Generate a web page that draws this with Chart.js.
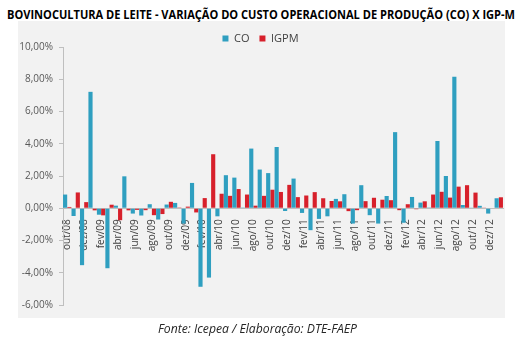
<!DOCTYPE html>
<html>
<head>
<meta charset="utf-8">
<script src="https://cdn.jsdelivr.net/npm/chart.js@4.4.1/dist/chart.umd.min.js"></script>
<style>
  body { margin: 0; background: #fff; }
  #wrap { position: relative; width: 526px; height: 345px; overflow: hidden; }
  #panel { position: absolute; left: 18px; top: 21px; width: 487px; height: 297px; background: #f2f2f2; }
  #title { position: absolute; left: 7px; top: 6px; font: bold 12px "Open Sans"; color: #000; white-space: nowrap; transform-origin: 0 0; }
  #fonte { position: absolute; left: 158px; top: 320px; font: italic 12px "Open Sans"; color: #262626; white-space: nowrap; transform-origin: 0 0; }
  canvas { position: absolute; left: 0; top: 0; }
</style>
</head>
<body>
<div id="wrap">
  <div id="panel"></div>
  <div id="title">BOVINOCULTURA DE LEITE - VARIAÇÃO DO CUSTO OPERACIONAL DE PRODUÇÃO (CO) X IGP-M</div>
  <canvas id="chart" width="526" height="345"></canvas>
  <div id="fonte">Fonte: Icepea / Elaboração: DTE-FAEP</div>
</div>
<script>
// meses (out/08 a jan/13)
const months = [
  'out/08', 'nov/08', 'dez/08',
  'jan/09', 'fev/09', 'mar/09', 'abr/09', 'mai/09', 'jun/09', 'jul/09', 'ago/09', 'set/09', 'out/09', 'nov/09', 'dez/09',
  'jan/10', 'fev/10', 'mar/10', 'abr/10', 'mai/10', 'jun/10', 'jul/10', 'ago/10', 'set/10', 'out/10', 'nov/10', 'dez/10',
  'jan/11', 'fev/11', 'mar/11', 'abr/11', 'mai/11', 'jun/11', 'jul/11', 'ago/11', 'set/11', 'out/11', 'nov/11', 'dez/11',
  'jan/12', 'fev/12', 'mar/12', 'abr/12', 'mai/12', 'jun/12', 'jul/12', 'ago/12', 'set/12', 'out/12', 'nov/12', 'dez/12',
  'jan/13'
];

// variação mensal (%)
const coValues = [
  0.85, -0.48, -3.53,
  7.22, -0.40, -3.72, 0.16, 1.98, -0.33, -0.45, 0.25, -0.70, 0.23, 0.33, -0.95,
  1.57, -4.87, -4.30, -0.50, 2.05, 1.90, 0.05, 3.70, 2.40, 2.18, 3.80, -0.17,
  1.84, -0.29, -1.36, -0.66, -0.50, 0.58, 0.87, -0.95, 1.43, -0.43, -0.95, 0.76,
  4.72, -0.90, 0.70, 0.35, 0.05, 4.17, 2.00, 8.15, 0.20, 0.02, 0.15, -0.33,
  0.62
];

const igpmValues = [
  0.08, 0.98, 0.38,
  -0.13, -0.44, 0.22, -0.74, -0.13, -0.10, -0.12, -0.43, -0.36, 0.40, 0.05, 0.10,
  -0.26, 0.63, 3.35, 0.90, 0.77, 1.19, 0.85, 0.16, 0.77, 1.15, 1.01, 1.45,
  0.69, 0.79, 1.00, 0.62, 0.45, 0.43, -0.18, -0.12, 0.44, 0.65, 0.53, 0.50,
  -0.12, 0.25, -0.06, 0.43, 0.85, 1.02, 0.66, 1.34, 1.43, 0.97, 0.02, -0.03,
  0.68
];

const yMin = -6;
const yMax = 10;
const yStep = 2;

// ajusta largura dos textos
function fitWidth(id, target) {
  const el = document.getElementById(id);
  const w = el.getBoundingClientRect().width;
  el.style.transform = 'scaleX(' + (target / w) + ')';
}
fitWidth('title', 508);
fitWidth('fonte', 199);

const font = 'Open Sans';

const legendHeight = {
  id: 'legendHeight',
  beforeInit(chart) {
    const fit = chart.legend.fit;
    chart.legend.fit = function () {
      fit.call(this);
      this.height = 24;
    };
  }
};

const ctx = document.getElementById('chart').getContext('2d');
new Chart(ctx, {
  type: 'bar',
  data: {
    labels: months,
    datasets: [
      { label: 'CO', data: coValues, backgroundColor: '#2f9fc0', borderWidth: 0, categoryPercentage: 1, barPercentage: 0.98 },
      { label: 'IGPM', data: igpmValues, backgroundColor: '#d7202b', borderWidth: 0, categoryPercentage: 1, barPercentage: 0.98 }
    ]
  },
  options: {
    responsive: false,
    animation: false,
    layout: { padding: { top: 23, left: 18, right: 23, bottom: 40 } },
    plugins: {
      tooltip: { enabled: false },
      legend: {
        position: 'top',
        labels: {
          boxWidth: 6,
          boxHeight: 6,
          padding: 10,
          color: '#404040',
          font: { family: font, size: 11 }
        }
      }
    },
    scales: {
      x: {
        position: { y: 0 },
        grid: { display: false },
        border: { display: true, color: '#bfbfbf' },
        ticks: {
          autoSkip: false,
          minRotation: 90,
          maxRotation: 90,
          padding: 3,
          color: '#404040',
          font: { family: font, size: 10 },
          callback: function (value, index) {
            return index % 2 === 0 ? this.getLabelForValue(value) : '';
          }
        }
      },
      y: {
        min: yMin,
        max: yMax,
        afterFit: (s) => { s.width = 45; },
        grid: { drawOnChartArea: false, drawTicks: true, tickLength: 4, color: '#bfbfbf' },
        border: { display: true, color: '#bfbfbf' },
        ticks: {
          stepSize: yStep,
          padding: 6,
          color: '#595959',
          font: { family: font, size: 10 },
          callback: (v) => v.toFixed(2).replace('.', ',') + '%'
        }
      }
    }
  },
  plugins: [legendHeight]
});
</script>
</body>
</html>
